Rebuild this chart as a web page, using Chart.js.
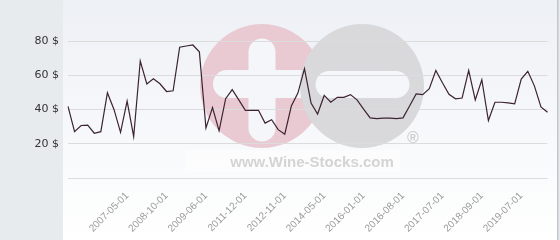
<!DOCTYPE html>
<html>
<head>
<meta charset="utf-8">
<script src="https://cdn.jsdelivr.net/npm/chart.js@4.4.0/dist/chart.umd.min.js"></script>
<style>
  html, body { margin: 0; padding: 0; background: #e7ebee; }
  #wrap { width: 560px; height: 240px; position: relative; }
</style>
</head>
<body>
<div id="wrap"><canvas id="priceChart"></canvas></div>
<script>
// price history (USD), one value per quote
const prices = [
  41.9, 27.1, 30.7, 30.9, 26.2, 27.1, 49.9, 40.1, 26.7, 45,
  24.3, 68.4, 55, 58, 55.1, 50.6, 51, 76.5, 77.2, 77.8,
  73.8, 29.2, 41.2, 27.6, 46.4, 51.7, 45.7, 39.6, 39.6, 39.6,
  32.1, 34.1, 28.3, 25.6, 42.1, 49.7, 64, 43.9, 37.4, 48.3,
  44.3, 47.2, 47.2, 48.8, 45.7, 40.3, 35.2, 34.7, 35, 35,
  34.7, 35.2, 42.1, 49.2, 48.8, 52.2, 62.9, 55.7, 49, 46.3,
  46.8, 62.9, 45.7, 57.5, 33.6, 44.3, 44.3, 43.9, 43.4, 57.9,
  62.4, 53.9, 41.6, 38.5
];

// dates shown under the axis (every 6th quote, starting at the 10th)
const tickLabels = [
  '2007-05-01', '2008-10-01', '2009-06-01', '2011-12-01', '2012-11-01',
  '2014-05-01', '2016-01-01', '2016-08-01', '2017-07-01', '2018-09-01',
  '2019-07-01'
];
const firstTick = 9;
const tickStep = 6;

const yTicks = [0, 20, 40, 60, 80];

// category per quote, only the labelled ones get a date
const categories = prices.map((p, i) => {
  const k = (i - firstTick) / tickStep;
  return (k >= 0 && Number.isInteger(k) && tickLabels[k]) ? tickLabels[k] : '';
});

// background panel + wine-stocks watermark
const backdrop = {
  id: 'backdrop',
  beforeDraw(chart) {
    const c = chart.ctx;
    const h = chart.height;
    c.save();
    c.fillStyle = '#e7ebee';
    c.fillRect(0, 0, chart.width, h);
    const g = c.createLinearGradient(0, 0, 0, h);
    g.addColorStop(0, '#edf0f5');
    g.addColorStop(1, '#ffffff');
    c.fillStyle = g;
    c.fillRect(63, 0, 494, h);
    c.fillStyle = '#c4c6c9';
    c.fillRect(557, 0, 1.5, h);

    // pink circle with white cross
    c.fillStyle = '#e9cad3';
    c.beginPath(); c.arc(262, 86, 62, 0, Math.PI * 2); c.fill();
    c.strokeStyle = '#f5f6f9';
    c.lineCap = 'round';
    c.lineWidth = 27;
    c.beginPath(); c.moveTo(262, 52); c.lineTo(262, 128); c.stroke();
    c.lineWidth = 28;
    c.beginPath(); c.moveTo(227, 84); c.lineTo(300, 84); c.stroke();

    // grey circle with white minus
    c.fillStyle = '#d9d9db';
    c.beginPath(); c.arc(362, 86, 62, 0, Math.PI * 2); c.fill();
    c.strokeStyle = '#f5f6f9';
    c.lineWidth = 27;
    c.beginPath(); c.moveTo(329, 84.5); c.lineTo(396, 84.5); c.stroke();

    c.fillStyle = 'rgba(255,255,255,0.45)';
    c.fillRect(185, 150, 215, 22);
    c.fillStyle = '#d4d4d4';
    c.textAlign = 'center';
    c.textBaseline = 'alphabetic';
    c.font = 'bold 15px "Liberation Sans", Arial, sans-serif';
    c.fillText('www.Wine-Stocks.com', 312, 167);
    c.fillStyle = '#cfcfcf';
    c.font = 'bold 16px "Liberation Sans", Arial, sans-serif';
    c.textBaseline = 'middle';
    c.fillText('\u00AE', 413, 139);
    c.restore();
  }
};

const ctx = document.getElementById('priceChart').getContext('2d');
const priceChart = new Chart(ctx, {
  type: 'line',
  data: {
    labels: categories,
    datasets: [{
      label: 'Price',
      data: prices,
      borderColor: '#3d2331',
      borderWidth: 1.2,
      pointRadius: 0,
      tension: 0,
      fill: false
    }]
  },
  options: {
    responsive: true,
    maintainAspectRatio: false,
    animation: false,
    layout: {
      padding: { top: 3.5, right: 6, bottom: 0, left: 0 }
    },
    plugins: {
      legend: { display: false },
      tooltip: { enabled: false }
    },
    scales: {
      x: {
        offset: false,
        grid: { display: false },
        border: { display: false },
        ticks: {
          autoSkip: false,
          minRotation: 45,
          maxRotation: 45,
          padding: 4,
          color: '#9a9a9a',
          font: { family: '"Liberation Sans", Arial, sans-serif', size: 10 }
        },
        afterFit(scale) { scale.height = 62; }
      },
      y: {
        min: 0,
        max: 95,
        grid: { color: '#dcdcdc', drawTicks: false },
        border: { display: false },
        afterBuildTicks(scale) {
          scale.ticks = yTicks.map(v => ({ value: v }));
        },
        ticks: {
          padding: 9,
          color: '#333333',
          font: { family: '"DejaVu Sans", sans-serif', size: 11 },
          callback: v => (v === 0 ? '' : v + ' $')
        },
        afterFit(scale) { scale.width = 68; }
      }
    }
  },
  plugins: [backdrop]
});
</script>
</body>
</html>
